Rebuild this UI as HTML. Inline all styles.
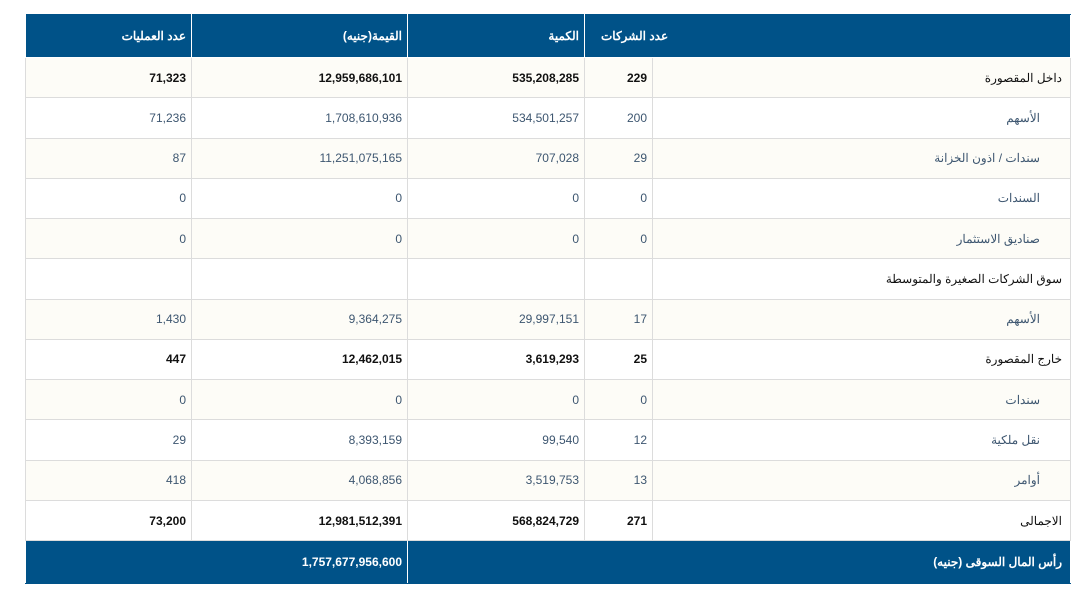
<!DOCTYPE html>
<html><head><meta charset="utf-8"><style>
body{margin:0;width:1086px;height:599px;background:#fff;font-family:"Liberation Sans","Noto Sans CJK SC",sans-serif;position:relative;overflow:hidden}
table{position:absolute;left:25px;top:14px;width:1045px;border-collapse:collapse;table-layout:fixed;direction:rtl;font-size:12px}
td,th{border:1px solid #dcdcdc;text-align:right;padding:0 5px;white-space:nowrap;overflow:hidden}
th{background:#005288;color:#fff;height:42px;font-weight:bold;border-color:#fff;border-top-color:#005288}
th.ov{overflow:visible;direction:ltr;text-align:left;padding-left:16px;border-right-color:#005288}
tr.r td{height:39.27px}
tr.o td{background:#fdfcf7}
tr.b td{color:#111;font-weight:bold}
tr.b td:first-child{font-weight:normal;padding-right:8px}
tr.s td{color:#3d5670}
tr.s td:first-child{padding-right:30px}
tr.h td:first-child{color:#111;padding-right:8px}
tr.f td{background:#005288;color:#fff;font-weight:bold;height:42px;border-color:#fff;border-bottom-color:#005288}
</style></head><body>
<table>
<colgroup><col style="width:418px"><col style="width:68px"><col style="width:177px"><col style="width:216px"><col style="width:166px"></colgroup>
<tr><th style="border-left-color:#005288"></th><th class="ov"><span dir="rtl">عدد الشركات</span></th><th>الكمية</th><th>القيمة(جنيه)</th><th>عدد العمليات</th></tr>
<tr class="r o b"><td>داخل المقصورة</td><td>229</td><td>535,208,285</td><td>12,959,686,101</td><td>71,323</td></tr>
<tr class="r s"><td>الأسهم</td><td>200</td><td>534,501,257</td><td>1,708,610,936</td><td>71,236</td></tr>
<tr class="r o s"><td>سندات / اذون الخزانة</td><td>29</td><td>707,028</td><td>11,251,075,165</td><td>87</td></tr>
<tr class="r s"><td>السندات</td><td>0</td><td>0</td><td>0</td><td>0</td></tr>
<tr class="r o s"><td>صناديق الاستثمار</td><td>0</td><td>0</td><td>0</td><td>0</td></tr>
<tr class="r h"><td>سوق الشركات الصغيرة والمتوسطة</td><td></td><td></td><td></td><td></td></tr>
<tr class="r o s"><td>الأسهم</td><td>17</td><td>29,997,151</td><td>9,364,275</td><td>1,430</td></tr>
<tr class="r b"><td>خارج المقصورة</td><td>25</td><td>3,619,293</td><td>12,462,015</td><td>447</td></tr>
<tr class="r o s"><td>سندات</td><td>0</td><td>0</td><td>0</td><td>0</td></tr>
<tr class="r s"><td>نقل ملكية</td><td>12</td><td>99,540</td><td>8,393,159</td><td>29</td></tr>
<tr class="r o s"><td>أوامر</td><td>13</td><td>3,519,753</td><td>4,068,856</td><td>418</td></tr>
<tr class="r b"><td>الاجمالى</td><td>271</td><td>568,824,729</td><td>12,981,512,391</td><td>73,200</td></tr>
<tr class="f"><td colspan="3" style="padding-right:8px">رأس المال السوقى (جنيه)</td><td colspan="2">1,757,677,956,600</td></tr>
</table>
</body></html>
